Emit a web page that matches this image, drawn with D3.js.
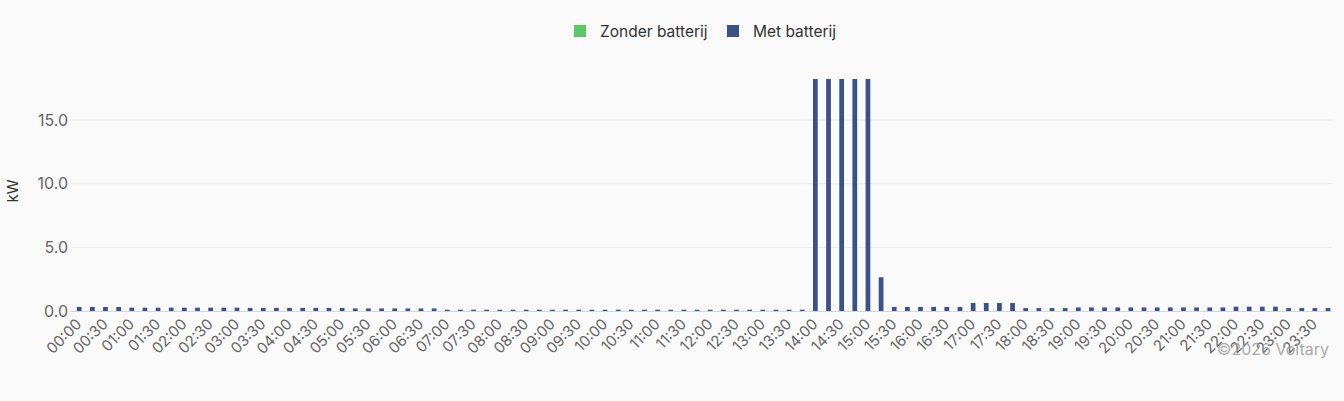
<!DOCTYPE html>
<html>
<head>
<meta charset="utf-8">
<script src="https://cdn.jsdelivr.net/npm/d3@7"></script>
<style>
  html, body { margin: 0; padding: 0; background: #fafafa; }
  svg { display: block; font-family: Inter, "Noto Sans", sans-serif; }
</style>
</head>
<body>
<svg id="chart" width="1344" height="401"></svg>
<script>
// quarter-hour categories, 00:00 .. 23:45
const slots = d3.range(96).map(i =>
  String(Math.floor(i / 4)).padStart(2, '0') + ':' + String((i % 4) * 15).padStart(2, '0'));

// kW per slot
const metBatterij = [
  0.32, 0.32, 0.32, 0.32, 0.26, 0.26, 0.26, 0.26, 0.26, 0.26, 0.26, 0.26,
  0.26, 0.24, 0.24, 0.24, 0.24, 0.24, 0.24, 0.24, 0.24, 0.2, 0.2, 0.2,
  0.2, 0.2, 0.2, 0.2, 0.1, 0.1, 0.1, 0.1, 0.1, 0.1, 0.1, 0.1,
  0.1, 0.1, 0.1, 0.1, 0.1, 0.1, 0.1, 0.1, 0.1, 0.1, 0.1, 0.1,
  0.1, 0.1, 0.1, 0.1, 0.1, 0.1, 0.1, 0.1, 18.23, 18.23, 18.23, 18.23,
  18.23, 2.65, 0.32, 0.32, 0.32, 0.32, 0.32, 0.32, 0.63, 0.63, 0.63, 0.63,
  0.23, 0.23, 0.23, 0.23, 0.28, 0.28, 0.28, 0.28, 0.28, 0.28, 0.28, 0.28,
  0.28, 0.28, 0.28, 0.28, 0.34, 0.34, 0.34, 0.34, 0.23, 0.23, 0.23, 0.23
];
const zonderBatterij = slots.map(() => 0);

const series = [
  { name: 'Zonder batterij', color: '#5ec866', values: zonderBatterij },
  { name: 'Met batterij', color: '#3b5189', values: metBatterij }
];
const yTicks = [0, 5, 10, 15];

const svg = d3.select('#chart');
const margin = { top: 79, right: 12, bottom: 90, left: 70 };
const W = 1344, H = 401;
const iw = W - margin.left - margin.right;
const ih = H - margin.top - margin.bottom;

const g = svg.append('g').attr('transform', `translate(${margin.left},${margin.top})`);

const x = d3.scaleBand().domain(slots).range([0, iw]).paddingInner(0).paddingOuter(0);
const x1 = d3.scaleBand().domain(series.map(s => s.name)).range([x.bandwidth() * 0.1, x.bandwidth() * 0.9]);
const y = d3.scaleLinear().domain([0, d3.max(metBatterij)]).range([ih, 0]);

// grid
g.append('g')
  .selectAll('line')
  .data(yTicks.filter(t => t > 0))
  .join('line')
  .attr('x1', 0).attr('x2', iw)
  .attr('y1', d => y(d)).attr('y2', d => y(d))
  .attr('stroke', '#ececec');

// y axis labels
const yAxis = g.append('g')
  .call(d3.axisLeft(y).tickValues(yTicks).tickFormat(d3.format('.1f')).tickSize(0).tickPadding(2));
yAxis.select('.domain').remove();
yAxis.selectAll('text').attr('fill', '#666').attr('font-size', 16).attr('font-family', 'Inter, sans-serif');

// bars
const groups = g.append('g')
  .selectAll('g')
  .data(series)
  .join('g')
  .attr('fill', d => d.color);

groups.selectAll('rect')
  .data(s => s.values.map((v, i) => ({ key: s.name, slot: slots[i], v })))
  .join('rect')
  .attr('x', d => x(d.slot) + x1(d.key) + x1.bandwidth() * 0.05)
  .attr('width', x1.bandwidth() * 0.9)
  .attr('y', d => y(d.v))
  .attr('height', d => ih - y(d.v));

// baseline
g.append('line')
  .attr('x1', 0).attr('x2', iw)
  .attr('y1', ih + 0.5).attr('y2', ih + 0.5)
  .attr('stroke', '#d2d5dc');

// x axis labels, every 30 minutes
const xAxis = g.append('g')
  .attr('transform', `translate(0,${ih})`)
  .call(d3.axisBottom(x).tickValues(slots.filter((s, i) => i % 2 === 0)).tickSize(0).tickPadding(0));
xAxis.select('.domain').remove();
xAxis.selectAll('text')
  .attr('fill', '#666')
  .attr('font-size', 15)
  .attr('font-family', 'Inter, sans-serif')
  .attr('text-anchor', 'end')
  .attr('dy', 0)
  .attr('transform', 'translate(6,14) rotate(-45)');

// y title
svg.append('text')
  .attr('transform', `translate(18,${margin.top + ih / 2 - 4}) rotate(-90)`)
  .attr('text-anchor', 'middle')
  .attr('font-size', 15)
  .attr('fill', '#333')
  .text('kW');

// legend
const legend = svg.append('g');
const legendX = [574, 727];
series.forEach((s, i) => {
  legend.append('rect')
    .attr('x', legendX[i]).attr('y', 25)
    .attr('width', 12).attr('height', 12)
    .attr('fill', s.color);
  legend.append('text')
    .attr('x', legendX[i] + 26).attr('y', 37)
    .attr('font-size', 15.5)
    .attr('fill', '#333')
    .text(s.name);
});

// watermark
svg.append('text')
  .attr('x', 1329).attr('y', 355)
  .attr('text-anchor', 'end')
  .attr('font-size', 16)
  .attr('fill', '#999')
  .attr('fill-opacity', 0.85)
  .text('©2026 Voltary');
</script>
</body>
</html>
